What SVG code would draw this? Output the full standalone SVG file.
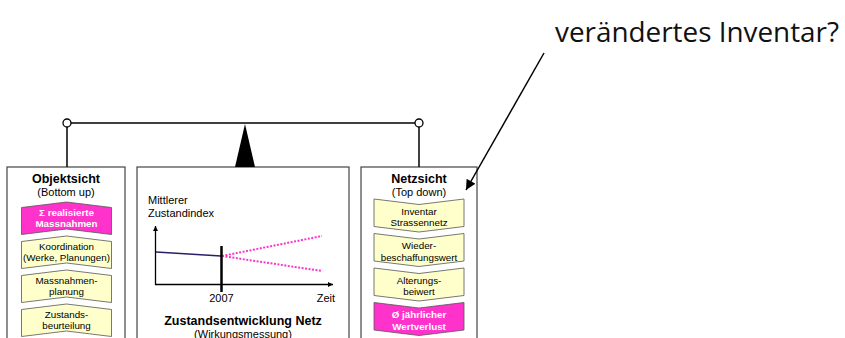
<svg xmlns="http://www.w3.org/2000/svg" width="845" height="338" viewBox="0 0 845 338">
<style>
.box{fill:#fff;stroke:#444;stroke-width:1.2}
.ln{stroke:#000;stroke-width:1.5;fill:none}
.yel{fill:#ffffcc;stroke:#555;stroke-width:0.8}
.pink{fill:#ff33cc;stroke:#555;stroke-width:0.8}
.t{font-family:"Liberation Sans",Arial,sans-serif;fill:#000}
.ttl{font-size:12.5px;font-weight:bold;text-anchor:middle}
.sub{font-size:11px;text-anchor:middle}
.ch{font-size:9.8px;text-anchor:middle}
.chw{font-size:9.8px;text-anchor:middle;font-weight:bold;fill:#fff}
.ax{font-size:11px}
</style>
<defs>
<marker id="ah" viewBox="0 0 10 10" refX="10" refY="5" markerWidth="11" markerHeight="10" markerUnits="userSpaceOnUse" orient="auto">
<path d="M0,0 L10,5 L0,10 Z" fill="#000"/>
</marker>
<marker id="axh" viewBox="0 0 10 10" refX="10" refY="5" markerWidth="6" markerHeight="5" markerUnits="userSpaceOnUse" orient="auto">
<path d="M0,0 L10,5 L0,10 Z" fill="#000"/>
</marker>
</defs>

<g id="label-inventar">
<text x="555" y="42" font-family="'Open Sans',sans-serif" font-size="27" font-weight="400" fill="#111" textLength="284" lengthAdjust="spacingAndGlyphs">verändertes Inventar?</text>
</g>

<g id="objektsicht">
<rect class="box" x="7" y="167" width="118" height="180"/>
<text class="t ttl" x="66" y="183">Objektsicht</text>
<text class="t sub" x="66" y="196">(Bottom up)</text>
<path class="pink" d="M21.5,207.5 L66.5,202 L111.5,207.5 L111.5,234.5 L66.5,229 L21.5,234.5 Z"/>
<text class="t chw" x="66.5" y="215.5">Σ realisierte</text>
<text class="t chw" x="66.5" y="227">Massnahmen</text>
<path class="yel" d="M21.5,241.5 L66.5,236 L111.5,241.5 L111.5,268.5 L66.5,263 L21.5,268.5 Z"/>
<text class="t ch" x="66.5" y="249.5">Koordination</text>
<text class="t ch" x="66.5" y="261">(Werke, Planungen)</text>
<path class="yel" d="M21.5,275.5 L66.5,270 L111.5,275.5 L111.5,302.5 L66.5,297 L21.5,302.5 Z"/>
<text class="t ch" x="66.5" y="283.5">Massnahmen-</text>
<text class="t ch" x="66.5" y="295">planung</text>
<path class="yel" d="M21.5,309.5 L66.5,304 L111.5,309.5 L111.5,336.5 L66.5,331 L21.5,336.5 Z"/>
<text class="t ch" x="66.5" y="317.5">Zustands-</text>
<text class="t ch" x="66.5" y="329">beurteilung</text>
</g>

<g id="zustandsentwicklung">
<rect class="box" x="137" y="167" width="212" height="180"/>
<text class="t ax" x="148" y="204">Mittlerer</text>
<text class="t ax" x="148" y="217">Zustandindex</text>
<line x1="155.5" y1="285" x2="155.5" y2="226" stroke="#000" stroke-width="1.3" marker-end="url(#axh)"/>
<line x1="155" y1="284.5" x2="333" y2="284.5" stroke="#000" stroke-width="1.3" marker-end="url(#axh)"/>
<line x1="156" y1="252" x2="221" y2="256" stroke="#2a1f66" stroke-width="1.5"/>
<line x1="222" y1="256" x2="322" y2="236" stroke="#ff33cc" stroke-width="2" stroke-dasharray="2,1.5"/>
<line x1="222" y1="256" x2="322" y2="271" stroke="#ff33cc" stroke-width="2" stroke-dasharray="2,1.5"/>
<line x1="221.5" y1="246" x2="221.5" y2="292" stroke="#000" stroke-width="2.5"/>
<text class="t ax" x="221.5" y="302" text-anchor="middle">2007</text>
<text class="t ax" x="335" y="302" text-anchor="end">Zeit</text>
<text class="t ttl" x="243" y="325">Zustandsentwicklung Netz</text>
<text class="t sub" x="243" y="337.5">(Wirkungsmessung)</text>
</g>

<g id="netzsicht">
<rect class="box" x="361" y="167" width="116" height="180"/>
<text class="t ttl" x="419" y="183">Netzsicht</text>
<text class="t sub" x="419" y="196">(Top down)</text>
<path class="yel" d="M374,199 L419,204.5 L464,199 L464,226.5 L419,232 L374,226.5 Z"/>
<text class="t ch" x="419" y="214.5">Inventar</text>
<text class="t ch" x="419" y="226">Strassennetz</text>
<path class="yel" d="M374,233.5 L419,239 L464,233.5 L464,261 L419,266.5 L374,261 Z"/>
<text class="t ch" x="419" y="249">Wieder-</text>
<text class="t ch" x="419" y="260.5">beschaffungswert</text>
<path class="yel" d="M374,268 L419,273.5 L464,268 L464,295.5 L419,301 L374,295.5 Z"/>
<text class="t ch" x="419" y="283.5">Alterungs-</text>
<text class="t ch" x="419" y="295">beiwert</text>
<path class="pink" d="M374,302.5 L419,308 L464,302.5 L464,330 L419,335.5 L374,330 Z"/>
<text class="t chw" x="419" y="318">Ø jährlicher</text>
<text class="t chw" x="419" y="329.5">Wertverlust</text>
</g>

<g id="connectors">
<line class="ln" x1="71" y1="123" x2="415" y2="123"/>
<line class="ln" x1="67" y1="127" x2="67" y2="167"/>
<line class="ln" x1="419" y1="127" x2="419" y2="167"/>
<circle cx="67" cy="123" r="4" fill="#fff" stroke="#000" stroke-width="1.3"/>
<circle cx="419" cy="123" r="4" fill="#fff" stroke="#000" stroke-width="1.3"/>
<path d="M245,124 L235,167 L255,167 Z" fill="#000"/>
<line class="ln" x1="544" y1="53" x2="466" y2="190" marker-end="url(#ah)"/>
</g>
</svg>
